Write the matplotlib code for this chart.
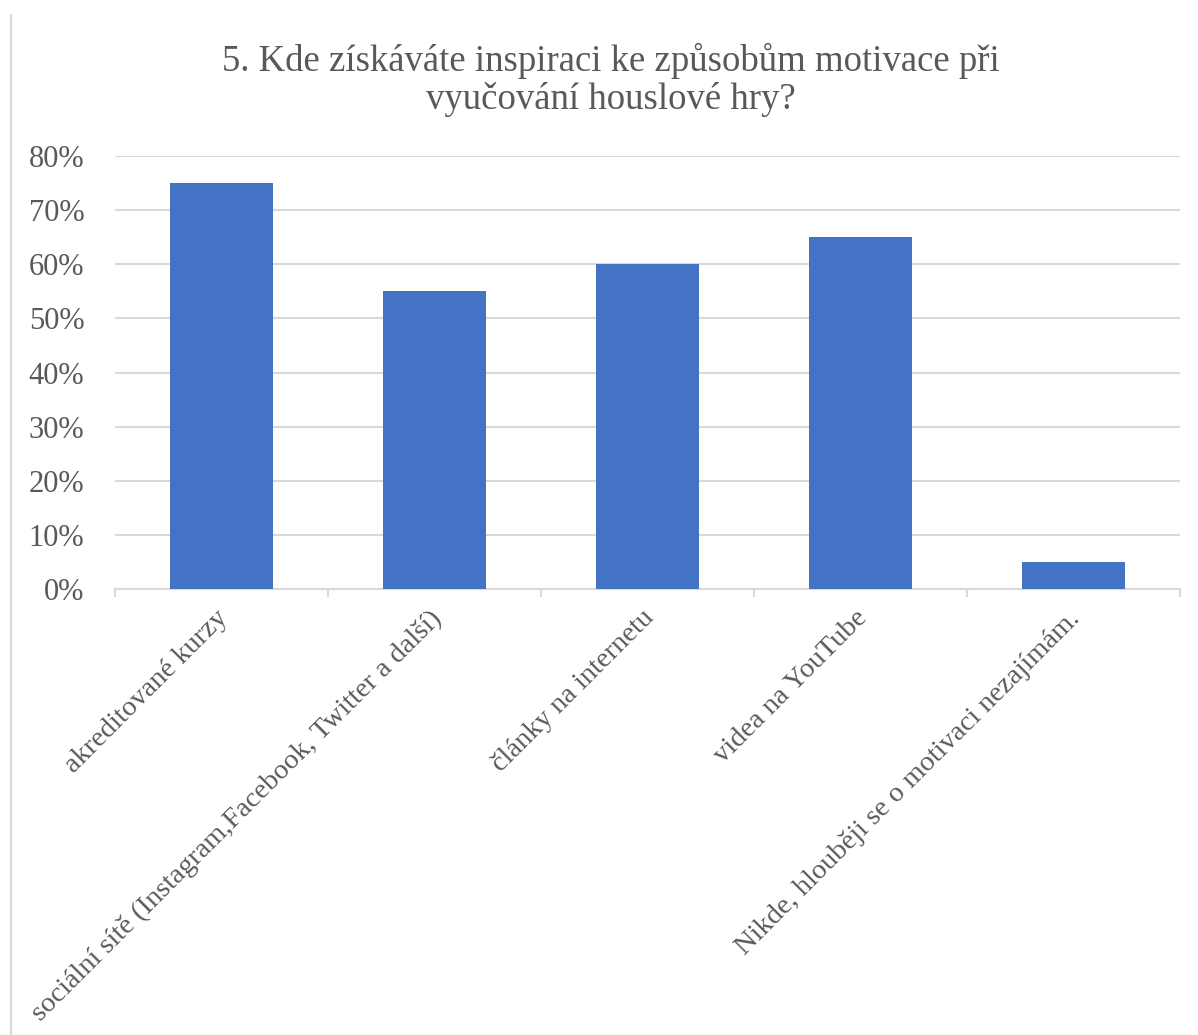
import matplotlib
matplotlib.use("Agg")
import matplotlib.pyplot as plt
from matplotlib.lines import Line2D
from matplotlib.ticker import FuncFormatter, FixedLocator
from matplotlib.transforms import ScaledTranslation

categories = [
    "akreditované kurzy",
    "sociální sítě (Instagram,Facebook, Twitter a další)",
    "články na internetu",
    "videa na YouTube",
    "Nikde, hlouběji se o motivaci nezajímám.",
]
values = [0.75, 0.55, 0.60, 0.65, 0.05]
y_ticks = [0, 0.1, 0.2, 0.3, 0.4, 0.5, 0.6, 0.7, 0.8]
title = "5. Kde získáváte inspiraci ke způsobům motivace při\nvyučování houslové hry?"

plt.rcParams['font.family'] = ['Liberation Serif', 'DejaVu Serif']
text_color = "#595959"
grid_color = "#d9d9d9"
bar_color = "#4472C4"

W, H = 1198, 1035
fig = plt.figure(figsize=(W / 100, H / 100), dpi=100)
ax = fig.add_axes([115 / W, 1 - 589 / H, (1180 - 115) / W, (589 - 156) / H])

x = list(range(len(categories)))
ax.bar(x, values, width=0.48, color=bar_color, zorder=3)
ax.set_xlim(-0.5, len(categories) - 0.5)
ax.set_ylim(0, 0.8)
ax.set_yticks(y_ticks)
ax.yaxis.set_major_formatter(FuncFormatter(lambda v, p: f"{v*100:.0f}%"))
ax.yaxis.grid(True, color=grid_color, linewidth=1.5, zorder=0)
ax.tick_params(axis='y', length=0, pad=22, labelsize=22, labelcolor=text_color)

ax.set_xticks(x)
ax.set_xticklabels(categories, rotation=45, ha='right', va='top',
                   rotation_mode='anchor', fontsize=20.5, color=text_color)
ax.tick_params(axis='x', which='major', length=0, pad=12)
offset = ScaledTranslation(-6 / 100, 0, fig.dpi_scale_trans)
for lbl in ax.get_xticklabels():
    lbl.set_transform(lbl.get_transform() + offset)
ax.xaxis.set_minor_locator(FixedLocator([i - 0.5 for i in range(len(categories) + 1)]))
ax.tick_params(axis='x', which='minor', length=6, width=1.5, color=grid_color)

for s in ['top', 'right', 'left']:
    ax.spines[s].set_visible(False)
ax.spines['bottom'].set_color(grid_color)
ax.spines['bottom'].set_linewidth(1.5)

fig.text(611 / W, 1 - 80 / H, title, ha='center', va='center', fontsize=26.5,
         color=text_color, linespacing=1.12)

fig.add_artist(Line2D([11 / W, 11 / W], [0, 1 - 15 / H], color=grid_color,
                      linewidth=1.5, transform=fig.transFigure))

fig.savefig("out.png", dpi=100, facecolor="white")
